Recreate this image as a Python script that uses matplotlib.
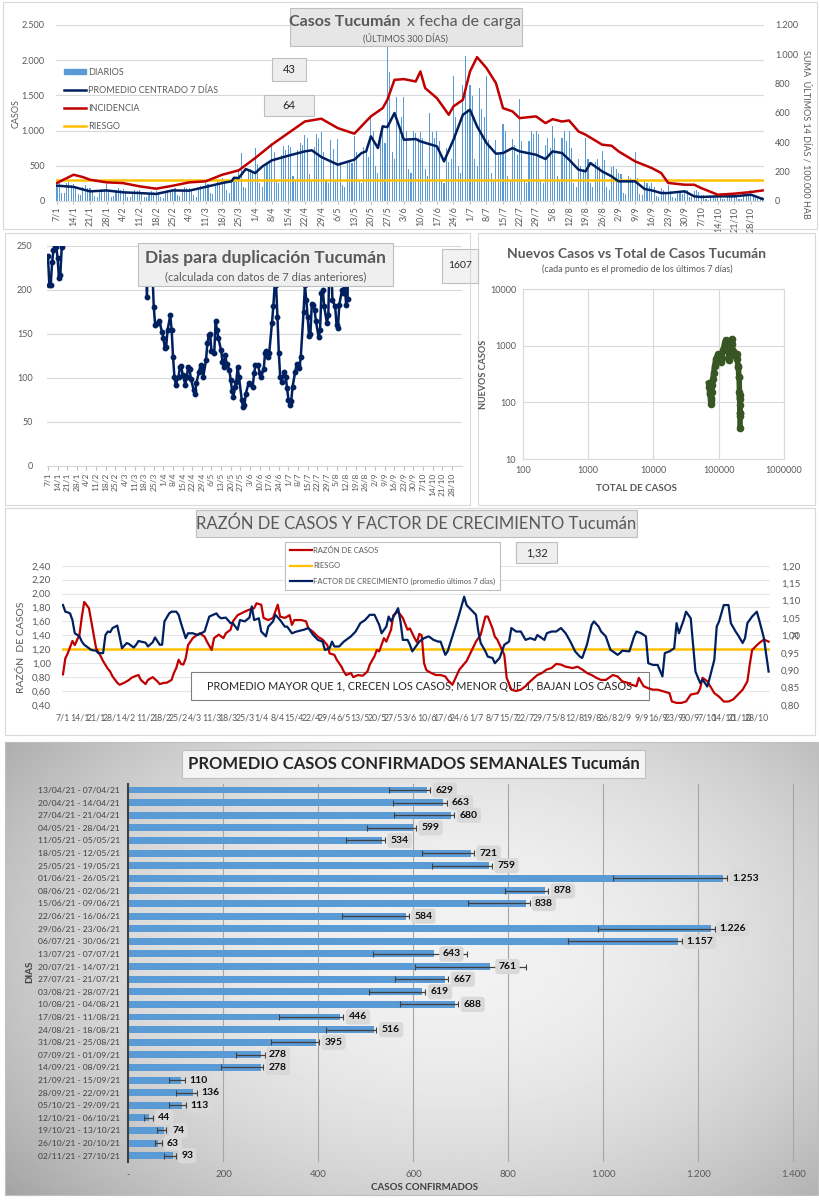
import numpy as np
import matplotlib.pyplot as plt
from matplotlib.patches import Rectangle, Patch
from matplotlib.lines import Line2D

plt.rcParams['font.family'] = ['Lato', 'DejaVu Sans']

GRAY_TXT = '#595959'
NAVY = '#002060'
RED = '#c00000'
ORANGE = '#ffc000'
BAR_BLUE = '#5b9bd5'
GREEN = '#375623'

# ---------------- datos ----------------
week_labels = ['7/1', '14/1', '21/1', '28/1', '4/2', '11/2', '18/2', '25/2', '4/3', '11/3',
               '18/3', '25/3', '1/4', '8/4', '15/4', '22/4', '29/4', '6/5', '13/5', '20/5',
               '27/5', '3/6', '10/6', '17/6', '24/6', '1/7', '8/7', '15/7', '22/7', '29/7',
               '5/8', '12/8', '19/8', '26/8', '2/9', '9/9', '16/9', '23/9', '30/9', '7/10',
               '14/10', '21/10', '28/10']

# casos diarios desde 7/1 (300 dias)
daily_cases = [
    230, 260, 110, 120, 250, 270, 230,
    240, 210, 100, 90, 200, 230, 190,
    180, 150, 70, 60, 160, 170, 150,
    240, 160, 60, 70, 150, 180, 160,
    170, 140, 50, 60, 130, 150, 140,
    150, 120, 60, 50, 120, 140, 130,
    140, 130, 50, 40, 110, 150, 150,
    170, 180, 90, 70, 160, 200, 180,
    190, 170, 80, 60, 170, 210, 170,
    260, 240, 110, 100, 230, 280, 250,
    330, 300, 150, 120, 310, 340, 330,
    450, 680, 200, 180, 420, 460, 400,
    750, 520, 250, 200, 480, 540, 560,
    820, 700, 300, 250, 650, 780, 720,
    800, 760, 350, 280, 720, 830, 800,
    940, 900, 380, 300, 760, 950, 900,
    980, 700, 300, 250, 860, 740, 300,
    880, 560, 230, 200, 570, 580, 540,
    920, 700, 300, 260, 760, 740, 620,
    1200, 1000, 500, 400, 950, 1080, 820,
    2200, 1830, 700, 600, 1480, 1000, 1200,
    1480, 1000, 450, 400, 990, 960, 900,
    980, 900, 450, 350, 1250, 980, 900,
    1000, 850, 300, 250, 750, 550, 600,
    1770, 1200, 500, 400, 1650, 2060, 1300,
    1650, 1485, 600, 500, 1600, 1300, 1200,
    1780, 870, 400, 300, 870, 650, 700,
    1100, 1000, 350, 300, 880, 800, 650,
    1450, 850, 300, 250, 850, 1000, 950,
    990, 950, 300, 250, 800, 900, 750,
    1060, 900, 350, 300, 900, 1000, 850,
    990, 750, 250, 200, 600, 500, 450,
    894, 600, 250, 200, 550, 600, 500,
    705, 580, 200, 150, 480, 500, 450,
    400, 380, 120, 100, 350, 320, 300,
    690, 320, 100, 80, 280, 250, 220,
    250, 200, 70, 60, 180, 150, 130,
    230, 140, 50, 40, 120, 110, 100,
    160, 150, 60, 50, 140, 150, 130,
    90, 80, 30, 20, 70, 70, 60,
    90, 80, 30, 25, 80, 75, 70,
    100, 90, 35, 30, 80, 80, 70,
    150, 90, 40, 30, 40, 60,
]

# (dia, valor) promedio centrado 7 dias
avg_7d = [(0, 218), (7, 200), (14, 137), (21, 150), (28, 123), (35, 113), (42, 100), (49, 150),
          (56, 147), (63, 200), (70, 255), (74, 280), (75, 330), (77, 326), (80, 454), (84, 397),
          (87, 490), (91, 577), (98, 643), (105, 705), (108, 720), (112, 625), (119, 516),
          (126, 587), (129, 680), (131, 705), (133, 918), (136, 752), (138, 1060), (140, 1050),
          (143, 1250), (147, 870), (152, 880), (154, 847), (161, 776), (164, 563), (168, 870),
          (172, 1225), (175, 1296), (178, 1060), (182, 823), (186, 672), (189, 681), (193, 752),
          (196, 705), (203, 657), (207, 596), (210, 705), (214, 681), (217, 587), (221, 445),
          (224, 421), (226, 539), (231, 421), (235, 350), (238, 279), (241, 279), (245, 279),
          (249, 170), (252, 151), (256, 113), (259, 113), (263, 128), (266, 137), (270, 66),
          (273, 57), (280, 66), (287, 66), (294, 90), (299, 28)]

# (dia, valor) incidencia 14 dias / 100.000 hab
incidence = [(0, 123), (7, 179), (11, 163), (14, 145), (21, 127), (28, 122), (35, 100), (42, 84),
             (49, 104), (56, 127), (63, 134), (70, 179), (77, 209), (84, 293), (91, 384), (98, 463),
             (105, 542), (112, 561), (119, 497), (126, 459), (133, 577), (138, 633), (140, 690),
             (143, 826), (147, 831), (152, 815), (154, 883), (156, 770), (161, 701), (166, 588),
             (168, 645), (172, 690), (175, 883), (178, 981), (182, 906), (186, 804), (189, 633),
             (193, 611), (196, 565), (203, 577), (207, 531), (210, 558), (214, 542), (217, 549),
             (221, 474), (224, 452), (231, 384), (235, 377), (238, 338), (245, 270), (252, 225),
             (256, 191), (259, 123), (266, 111), (270, 111), (273, 88), (280, 43), (287, 50),
             (294, 61), (299, 72)]
riesgo_casos = 300
box_43 = '43'
box_64 = '64'

# (dia, valor) dias para duplicacion
duplicacion = [(0, 238), (1, 205), (2, 205), (3, 231), (4, 245), (5, 249), (6, 249), (7, 236),
               (8, 213), (9, 217), (10, 248), (11, 300), (70, 300), (72, 192), (74, 300),
               (77, 180), (78, 160), (80, 162), (81, 165), (83, 152), (84, 145), (85, 134),
               (86, 135), (87, 154), (89, 171), (90, 154), (91, 124), (92, 101), (93, 92),
               (95, 101), (96, 112), (97, 113), (98, 103), (100, 92), (101, 101), (102, 112),
               (103, 110), (104, 99), (106, 86), (107, 82), (108, 94), (110, 107), (111, 114),
               (112, 112), (113, 101), (115, 120), (116, 139), (117, 148), (118, 150), (119, 130),
               (121, 128), (122, 164), (123, 154), (124, 145), (126, 131), (127, 118), (128, 112),
               (129, 126), (130, 116), (132, 109), (133, 97), (134, 85), (135, 78), (136, 90),
               (137, 95), (138, 112), (139, 101), (141, 75), (142, 67), (143, 69), (144, 82),
               (146, 94), (147, 93), (149, 90), (150, 105), (151, 114), (153, 114), (154, 105),
               (155, 101), (157, 110), (158, 128), (159, 130), (160, 124), (161, 128), (163, 162),
               (164, 181), (165, 206), (166, 205), (167, 169), (168, 128), (169, 101), (170, 95),
               (172, 107), (173, 101), (174, 88), (175, 75), (176, 69), (177, 73), (178, 90),
               (180, 107), (181, 116), (182, 114), (183, 111), (184, 124), (186, 175), (187, 205),
               (188, 188), (189, 169), (190, 147), (191, 150), (192, 184), (193, 183), (194, 177),
               (195, 164), (197, 146), (198, 154), (199, 196), (200, 200), (201, 181), (203, 162),
               (204, 171), (205, 240), (206, 240), (207, 188), (209, 181), (210, 160), (211, 156),
               (212, 183), (214, 200), (215, 196), (216, 203), (217, 183), (218, 190), (219, 300)]
box_1607 = '1607'

# nuevos casos vs total (semanal)
total_casos = [70000, 71500, 72800, 73800, 74800, 75600, 76400, 77300, 78400, 79700, 81400,
               83500, 86300, 90000, 94300, 99000, 103500, 107300, 111200, 116500, 123800,
               127500, 131000, 137000, 142000, 144000, 147500, 152000, 157000, 161000, 166000,
               172500, 177500, 183000, 188000, 192500, 196500, 200000, 203000, 205500, 207500,
               208500, 209500, 210300, 210800, 211300, 211800, 212200]
nuevos_casos = [215, 190, 140, 145, 120, 110, 95, 150, 150, 200, 260, 330, 430, 580, 640, 710,
                620, 520, 600, 850, 1100, 1250, 880, 840, 700, 560, 870, 1230, 1300, 1060, 820,
                680, 700, 650, 700, 590, 430, 420, 280, 280, 150, 113, 135, 57, 66, 66, 90, 35]

# (dia, valor) razon de casos (eje izq) y factor de crecimiento (eje der)
razon = [(0, 0.84), (1, 1.07), (2, 1.14), (4, 1.32), (5, 1.26), (7, 1.41), (8, 1.67), (9, 1.88),
         (11, 1.79), (12, 1.60), (13, 1.41), (14, 1.22), (16, 1.10), (17, 1.03), (19, 0.92),
         (20, 0.88), (21, 0.81), (23, 0.72), (24, 0.69), (26, 0.72), (28, 0.76), (29, 0.79),
         (31, 0.82), (32, 0.83), (33, 0.76), (35, 0.70), (36, 0.76), (38, 0.80), (40, 0.74),
         (41, 0.70), (43, 0.72), (44, 0.72), (46, 0.76), (47, 0.86), (48, 0.93), (49, 1.05),
         (50, 0.99), (51, 0.98), (52, 1.07), (53, 1.26), (55, 1.36), (57, 1.41), (58, 1.43),
         (60, 1.38), (61, 1.31), (63, 1.19), (64, 1.36), (66, 1.41), (68, 1.36), (69, 1.43),
         (71, 1.48), (72, 1.60), (74, 1.69), (77, 1.74), (79, 1.77), (81, 1.79), (82, 1.86),
         (84, 1.84), (85, 1.65), (87, 1.62), (89, 1.65), (91, 1.84), (92, 1.67), (94, 1.65),
         (96, 1.69), (97, 1.55), (98, 1.62), (101, 1.62), (103, 1.60), (104, 1.50), (106, 1.45),
         (108, 1.38), (110, 1.34), (112, 1.26), (113, 1.14), (115, 1.12), (116, 1.05),
         (118, 0.95), (119, 0.88), (120, 0.83), (122, 0.86), (123, 0.80), (125, 0.83),
         (127, 0.82), (129, 0.88), (130, 0.98), (132, 1.10), (133, 1.19), (134, 1.17),
         (136, 1.36), (137, 1.31), (139, 1.48), (140, 1.69), (142, 1.74), (144, 1.65),
         (146, 1.48), (147, 1.50), (149, 1.36), (150, 1.30), (151, 1.42), (152, 1.40),
         (153, 1.00), (154, 0.90), (156, 0.86), (158, 0.83), (160, 0.83), (162, 0.81),
         (163, 0.76), (165, 0.69), (168, 0.91), (171, 1.03), (173, 1.17), (175, 1.31),
         (177, 1.41), (179, 1.67), (180, 1.67), (182, 1.50), (183, 1.38), (184, 1.34),
         (187, 1.12), (188, 0.79), (190, 0.62), (192, 0.60), (194, 0.62), (196, 0.67),
         (198, 0.74), (201, 0.83), (203, 0.86), (205, 0.91), (207, 0.93), (209, 0.99),
         (211, 0.98), (213, 0.95), (216, 0.93), (218, 0.95), (220, 0.91), (222, 0.86),
         (224, 0.83), (226, 0.79), (228, 0.76), (230, 0.76), (233, 0.83), (235, 0.81),
         (237, 0.74), (239, 0.72), (241, 0.69), (243, 0.67), (244, 0.79), (246, 0.67),
         (248, 0.64), (250, 0.62), (252, 0.62), (254, 0.60), (257, 0.57), (258, 0.45),
         (260, 0.43), (262, 0.43), (264, 0.45), (266, 0.55), (269, 0.57), (270, 0.64),
         (271, 0.79), (273, 0.74), (276, 0.57), (278, 0.52), (280, 0.45), (282, 0.45),
         (284, 0.48), (286, 0.55), (288, 0.62), (290, 0.74), (291, 0.98), (292, 1.19),
         (295, 1.29), (297, 1.34), (299, 1.31)]

factor = [(0, 1.087), (1, 1.068), (2, 1.066), (3, 1.063), (4, 1.044), (5, 1.006), (7, 0.997),
          (8, 0.982), (9, 0.973), (11, 0.963), (12, 0.958), (14, 0.956), (15, 0.949), (17, 0.949),
          (18, 1.001), (19, 1.011), (20, 1.009), (21, 1.021), (23, 1.028), (24, 0.997),
          (25, 0.963), (27, 0.978), (28, 0.975), (30, 0.965), (31, 0.973), (32, 0.984),
          (33, 0.982), (35, 0.979), (36, 0.968), (38, 0.980), (39, 0.994), (41, 0.973),
          (42, 0.973), (43, 1.040), (45, 1.063), (46, 1.068), (48, 1.068), (49, 1.059),
          (50, 1.035), (52, 0.992), (53, 1.006), (55, 1.006), (57, 1.001), (60, 1.011),
          (61, 1.032), (62, 1.054), (65, 1.063), (66, 1.054), (67, 1.049), (69, 1.051),
          (71, 1.035), (72, 1.035), (74, 1.016), (75, 1.044), (77, 1.040), (79, 1.051),
          (80, 1.083), (81, 1.044), (83, 1.049), (84, 1.011), (86, 0.997), (87, 1.025),
          (89, 1.040), (90, 1.059), (92, 1.044), (94, 1.025), (95, 1.025), (97, 1.006),
          (99, 1.011), (102, 1.016), (104, 1.021), (106, 1.001), (108, 0.987), (110, 0.982),
          (111, 0.958), (113, 0.963), (114, 0.982), (115, 0.968), (117, 0.968), (119, 0.982),
          (122, 0.997), (124, 1.011), (126, 1.035), (128, 1.044), (130, 1.059), (132, 1.059),
          (134, 1.030), (135, 1.006), (137, 1.025), (138, 1.054), (139, 1.040), (142, 1.078),
          (143, 1.040), (144, 0.987), (146, 0.987), (147, 0.973), (148, 0.954), (151, 0.982),
          (153, 0.992), (155, 0.997), (157, 0.987), (159, 0.982), (160, 0.982), (162, 0.944),
          (163, 0.954), (165, 0.997), (167, 1.040), (168, 1.063), (170, 1.111), (171, 1.087),
          (173, 1.073), (175, 1.059), (176, 1.011), (177, 0.978), (179, 0.954), (180, 0.939),
          (182, 0.935), (183, 0.920), (185, 0.935), (187, 0.973), (189, 0.982), (190, 1.021),
          (192, 1.011), (194, 1.011), (196, 0.987), (198, 0.992), (200, 0.987), (201, 1.001),
          (204, 0.987), (205, 1.006), (207, 1.011), (209, 1.011), (211, 1.021), (213, 1.006),
          (215, 0.982), (217, 0.954), (219, 0.939), (220, 0.935), (222, 0.973), (224, 1.030),
          (225, 1.040), (227, 1.025), (228, 1.011), (230, 0.997), (232, 0.958), (233, 0.954),
          (235, 0.944), (236, 0.949), (237, 0.956), (240, 0.954), (242, 0.997), (243, 1.011),
          (245, 1.006), (247, 0.997), (248, 0.920), (250, 0.915), (252, 0.915), (254, 0.882),
          (255, 0.949), (257, 0.954), (259, 0.963), (260, 1.035), (261, 1.006), (263, 1.044),
          (264, 1.068), (266, 1.049), (267, 0.973), (268, 0.896), (270, 0.863), (271, 0.873),
          (273, 0.853), (274, 0.877), (276, 0.930), (277, 1.025), (278, 1.040), (280, 1.087),
          (282, 1.087), (283, 1.035), (285, 1.011), (286, 1.001), (288, 0.978), (289, 0.992),
          (290, 1.035), (292, 1.054), (294, 1.068), (295, 1.044), (297, 0.992), (299, 0.896)]
riesgo_razon = 1.2
ultimo_razon = '1,32'

# promedio semanal de casos confirmados
semanas = ['13/04/21 - 07/04/21', '20/04/21 - 14/04/21', '27/04/21 - 21/04/21',
           '04/05/21 - 28/04/21', '11/05/21 - 05/05/21', '18/05/21 - 12/05/21',
           '25/05/21 - 19/05/21', '01/06/21 - 26/05/21', '08/06/21 - 02/06/21',
           '15/06/21 - 09/06/21', '22/06/21 - 16/06/21', '29/06/21 - 23/06/21',
           '06/07/21 - 30/06/21', '13/07/21 - 07/07/21', '20/07/21 - 14/07/21',
           '27/07/21 - 21/07/21', '03/08/21 - 28/07/21', '10/08/21 - 04/08/21',
           '17/08/21 - 11/08/21', '24/08/21 - 18/08/21', '31/08/21 - 25/08/21',
           '07/09/21 - 01/09/21', '14/09/21 - 08/09/21', '21/09/21 - 15/09/21',
           '28/09/21 - 22/09/21', '05/10/21 - 29/09/21', '12/10/21 - 06/10/21',
           '19/10/21 - 13/10/21', '26/10/21 - 20/10/21', '02/11/21 - 27/10/21']
promedio_semanal = [629, 663, 680, 599, 534, 721, 759, 1253, 878, 838, 584, 1226, 1157, 643, 761,
                    667, 619, 688, 446, 516, 395, 278, 278, 110, 136, 113, 44, 74, 63, 93]
err_menos = [80, 106, 120, 96, 75, 102, 119, 232, 85, 123, 135, 237, 231, 129, 158,
             106, 112, 117, 129, 100, 94, 52, 83, 24, 36, 27, 11, 15, 7, 18]
err_mas = [6, 7, 6, 6, 6, 6, 6, 8, 6, 7, 7, 9, 8, 70, 76,
           6, 6, 6, 6, 6, 7, 9, 6, 9, 8, 8, 7, 6, 8, 8]

# ---------------- figura ----------------
W, H = 820, 1200
fig = plt.figure(figsize=(W / 100, H / 100), dpi=100)


def add_ax(x0, y0, x1, y1, **kw):
    return fig.add_axes([x0 / W, 1 - y1 / H, (x1 - x0) / W, (y1 - y0) / H], **kw)


def ftext(x, y, s, **kw):
    kw.setdefault('ha', 'center')
    kw.setdefault('va', 'center')
    kw.setdefault('color', GRAY_TXT)
    return fig.text(x / W, 1 - y / H, s, **kw)


def fbox(x0, y0, x1, y1, fc='#e7e6e6', ec='#bfbfbf', lw=0.8, z=2):
    r = Rectangle((x0 / W, 1 - y1 / H), (x1 - x0) / W, (y1 - y0) / H,
                  transform=fig.transFigure, facecolor=fc, edgecolor=ec, linewidth=lw, zorder=z)
    fig.add_artist(r)


def miles(v):
    return f'{v:,}'.replace(',', '.')


def clean(ax, bottom=True):
    for s in ax.spines.values():
        s.set_visible(False)
    if bottom:
        ax.spines['bottom'].set_visible(True)
        ax.spines['bottom'].set_color('#d9d9d9')


week_pos = np.arange(len(week_labels)) * 7

# ---- panel 1: casos diarios ----
ax1 = add_ax(55.8, 25, 763.8, 201)
days = np.arange(len(daily_cases))
ax1.bar(days, daily_cases, width=0.45, color=BAR_BLUE, zorder=2)
d, v = zip(*avg_7d)
ax1.plot(d, v, color=NAVY, lw=1.8, zorder=4)
ax1.axhline(riesgo_casos, color=ORANGE, lw=1.8, zorder=3)
ax1.set_xlim(-0.5, 299.5)
ax1.set_ylim(0, 2500)
ax1.set_yticks(range(0, 2501, 500))
ax1.set_yticklabels([miles(t) for t in range(0, 2501, 500)])
ax1.grid(axis='y', color='#d9d9d9', lw=0.8)
ax1.set_axisbelow(True)
clean(ax1)
ax1.set_xticks(week_pos)
ax1.set_xticklabels(week_labels, rotation=90)
ax1.tick_params(axis='x', length=2, color='#bfbfbf', labelsize=6.5, labelcolor=GRAY_TXT, pad=2)
ax1.tick_params(axis='y', length=0, labelsize=6.5, labelcolor=GRAY_TXT, pad=8)

ax1r = ax1.twinx()
d, v = zip(*incidence)
ax1r.plot(d, v, color=RED, lw=1.8, zorder=3)
ax1r.set_ylim(0, 1200)
ax1r.set_yticks(range(0, 1201, 200))
ax1r.set_yticklabels([miles(t) for t in range(0, 1201, 200)])
clean(ax1r, bottom=False)
ax1r.tick_params(axis='y', length=0, labelsize=6.5, labelcolor=GRAY_TXT, pad=8)

handles = [Patch(color=BAR_BLUE, label='DIARIOS'),
           Line2D([], [], color=NAVY, lw=1.8, label='PROMEDIO CENTRADO 7 DÍAS'),
           Line2D([], [], color=RED, lw=1.8, label='INCIDENCIA'),
           Line2D([], [], color=ORANGE, lw=1.8, label='RIESGO')]
leg = ax1r.legend(handles=handles, loc='upper left', bbox_to_anchor=(60 / W, 1 - 64 / H),
                  bbox_transform=fig.transFigure, frameon=False, fontsize=6.5,
                  handlelength=2.5, handleheight=0.5, labelspacing=1.0, handletextpad=0.2,
                  borderaxespad=0)
for t in leg.get_texts():
    t.set_color(GRAY_TXT)

ftext(16, 114, 'CASOS', rotation=90, fontsize=6.5)
ftext(806, 134, 'SUMA  ÚLTIMOS 14 DÍAS / 100.000 HAB', rotation=270, fontsize=6.5)
fbox(290, 8, 522, 46)
ftext(401, 22, 'Casos Tucumán', ha='right', fontsize=11.5, fontweight='bold')
ftext(407, 22, 'x fecha de carga', ha='left', fontsize=11.5)
ftext(405, 38, '(ÚLTIMOS 300 DÍAS)', fontsize=6.5)
fbox(272, 58, 306, 81, fc='#eeeeee')
ftext(289, 69.5, box_43, fontsize=8, color='#262626')
fbox(264, 95, 314, 116, fc='#eeeeee')
ftext(289, 105.5, box_64, fontsize=8, color='#262626')
fbox(3, 2, 817, 229, fc='none', ec='#d9d9d9')

# ---- panel 2: dias para duplicacion ----
ax2 = add_ax(46.6, 245.7, 462, 465.7)
d, v = zip(*duplicacion)
ax2.plot(d, v, color=NAVY, lw=1.8, marker='o', ms=3.2, zorder=3)
ax2.set_xlim(-1, 301.3)
ax2.set_ylim(0, 250)
ax2.set_yticks(range(0, 251, 50))
ax2.grid(axis='y', color='#d9d9d9', lw=0.8)
ax2.set_axisbelow(True)
clean(ax2)
ax2.set_xticks(week_pos)
ax2.set_xticklabels(week_labels, rotation=90)
ax2.tick_params(axis='x', length=3, color='#bfbfbf', labelsize=6, labelcolor=GRAY_TXT, pad=2)
ax2.tick_params(axis='y', length=0, labelsize=6.5, labelcolor=GRAY_TXT, pad=10)
fbox(138, 243, 393, 286, fc='#efefef')
ftext(265.5, 258, 'Dias para duplicación Tucumán', fontsize=12.5, fontweight='bold')
ftext(265.5, 277, '(calculada con datos de 7 días anteriores)', fontsize=8)
fbox(442, 249, 478, 283, fc='#f2f2f2')
ftext(460, 266, box_1607, fontsize=7.5, color='#262626')
fbox(5, 233, 470, 505, fc='none', ec='#d9d9d9')

# ---- panel 3: nuevos casos vs total ----
fbox(478, 233, 815, 505, fc='white', ec='#d9d9d9', z=1.5)
ax3 = add_ax(523, 289, 784, 459)
ax3.set_zorder(2)
ax3.plot(total_casos, nuevos_casos, color=GREEN, lw=4, marker='o', ms=4.5, zorder=3)
ax3.set_xscale('log')
ax3.set_yscale('log')
ax3.set_xlim(100, 1e6)
ax3.set_ylim(10, 1e4)
ax3.set_xticks([1e2, 1e3, 1e4, 1e5, 1e6])
ax3.set_xticklabels(['100', '1000', '10000', '100000', '1000000'])
ax3.set_yticks([1e1, 1e2, 1e3, 1e4])
ax3.set_yticklabels(['10', '100', '1000', '10000'])
ax3.minorticks_off()
ax3.grid(color='#d9d9d9', lw=0.8)
ax3.set_axisbelow(True)
for s in ax3.spines.values():
    s.set_color('#d9d9d9')
ax3.tick_params(length=0, labelsize=6.5, labelcolor=GRAY_TXT, pad=5)
ftext(637, 254, 'Nuevos Casos vs Total de Casos Tucumán', fontsize=10, fontweight='bold', zorder=4)
ftext(637, 269, '(cada punto es el promedio de los últimos 7 días)', fontsize=6.5, zorder=4)
ftext(484, 374, 'NUEVOS CASOS', rotation=90, fontsize=6.5, fontweight='bold', zorder=4)
ftext(637, 488, 'TOTAL DE CASOS', fontsize=7, fontweight='bold', zorder=4)

# ---- panel 4: razon de casos y factor de crecimiento ----
ax4 = add_ax(61.8, 565.7, 769.8, 705)
d, v = zip(*razon)
ax4.plot(d, v, color=RED, lw=1.6, zorder=3)
ax4.axhline(riesgo_razon, color=ORANGE, lw=1.8, zorder=2.5)
ax4.set_xlim(-0.5, 299.5)
ax4.set_ylim(0.4, 2.4)
yt = np.round(np.arange(0.4, 2.41, 0.2), 2)
ax4.set_yticks(yt)
ax4.set_yticklabels([f'{t:.2f}'.replace('.', ',') for t in yt])
ax4.grid(axis='y', color='#e7e6e6', lw=0.8)
ax4.set_axisbelow(True)
clean(ax4, bottom=False)
ax4.set_xticks(week_pos)
ax4.set_xticklabels(week_labels)
ax4.tick_params(axis='x', length=0, labelsize=6.3, labelcolor=GRAY_TXT, pad=6)
ax4.tick_params(axis='y', length=0, labelsize=7, labelcolor=GRAY_TXT, pad=8)

box = Rectangle((191 / W, 1 - 700 / H), 458 / W, 28 / H, transform=fig.transFigure,
                facecolor='white', edgecolor='#7f7f7f', lw=0.8, zorder=1.5, clip_on=False)
ax4.add_patch(box)
ax4.text(420 / W, 1 - 686 / H, 'PROMEDIO MAYOR QUE 1, CRECEN LOS CASOS, MENOR QUE 1, BAJAN LOS CASOS',
         transform=fig.transFigure, ha='center', va='center', fontsize=7.8, color='#262626',
         zorder=1.6, clip_on=False)

ax4r = ax4.twinx()
d, v = zip(*factor)
ax4r.plot(d, v, color=NAVY, lw=1.6, zorder=3)
ax4r.set_ylim(0.8, 1.2)
yt2 = np.round(np.arange(0.8, 1.201, 0.05), 2)
ax4r.set_yticks(yt2)
ax4r.set_yticklabels([f'{t:.2f}'.replace('.', ',') for t in yt2])
clean(ax4r, bottom=False)
ax4r.tick_params(axis='y', length=0, labelsize=7, labelcolor=GRAY_TXT, pad=8)

handles = [Line2D([], [], color=RED, lw=1.6, label='RAZÓN DE CASOS'),
           Line2D([], [], color=ORANGE, lw=1.6, label='RIESGO'),
           Line2D([], [], color=NAVY, lw=1.6, label='FACTOR DE CRECIMIENTO (promedio últimos 7 días)')]
leg = ax4r.legend(handles=handles, loc='upper left', bbox_to_anchor=(285 / W, 1 - 542 / H),
                  bbox_transform=fig.transFigure, frameon=True, fancybox=False,
                  edgecolor='#bfbfbf', framealpha=1, fontsize=5.5, handlelength=3,
                  labelspacing=1.1, handletextpad=0.1, borderaxespad=0, borderpad=0.6)
leg.get_frame().set_linewidth(0.8)
for t in leg.get_texts():
    t.set_color(GRAY_TXT)

fbox(196, 510, 637, 537)
ftext(416.5, 524, 'RAZÓN DE CASOS Y FACTOR DE CRECIMIENTO Tucumán', fontsize=12)
fbox(516, 542, 557, 563, fc='#eeeeee')
ftext(536.5, 552.5, ultimo_razon, fontsize=8, color='#262626')
ftext(22, 647, 'RAZÓN  DE CASOS', rotation=90, fontsize=7.5)
ftext(793, 636, 'FC', rotation=270, fontsize=5.5)
fbox(5, 508, 815, 735, fc='none', ec='#d9d9d9')

# ---- panel 5: promedio semanal ----
bg = add_ax(5, 742, 818, 1195)
bg.set_zorder(-1)
gy, gx = np.mgrid[-1:1:200j, -1:1:300j]
shade = 0.95 - 0.15 * ((gx - 0.1) ** 2 + 0.7 * (gy + 0.1) ** 2)
bg.imshow(shade, cmap='gray', vmin=0, vmax=1, extent=[0, 1, 0, 1], aspect='auto')
bg.axis('off')

ax5 = add_ax(128.5, 783.7, 798, 1162)
ax5.set_facecolor('none')
ypos = np.arange(len(semanas))
ax5.barh(ypos, promedio_semanal, height=0.55, color=BAR_BLUE, zorder=2,
         xerr=[err_menos, err_mas],
         error_kw=dict(ecolor='#404040', elinewidth=0.9, capsize=2, capthick=0.8, zorder=3))
for i, val in enumerate(promedio_semanal):
    ax5.text(val + 18, i, miles(val), ha='left', va='center', fontsize=7.5, fontweight='bold',
             color='#0d0d0d', zorder=4,
             bbox=dict(boxstyle='round,pad=0.3', fc='#d9d9d9', ec='none'))
ax5.set_ylim(len(semanas) - 0.5, -0.5)
ax5.set_xlim(0, 1410)
ax5.set_yticks(ypos)
ax5.set_yticklabels(semanas)
xt = list(range(0, 1401, 200))
ax5.set_xticks(xt)
ax5.set_xticklabels(['-'] + [miles(t) for t in xt[1:]])
ax5.grid(axis='x', color='#a6a6a6', lw=0.8)
ax5.set_axisbelow(True)
for s in ax5.spines.values():
    s.set_visible(False)
ax5.spines['left'].set_visible(True)
ax5.spines['left'].set_color('#404040')
ax5.spines['left'].set_linewidth(1.5)
ax5.tick_params(axis='y', length=0, labelsize=6.1, labelcolor='#404040', pad=6)
ax5.tick_params(axis='x', length=0, labelsize=7, labelcolor=GRAY_TXT, pad=6)
fbox(182, 750, 645, 778, fc='#f4f4f4', ec='#bfbfbf')
ftext(413.5, 764, 'PROMEDIO CASOS CONFIRMADOS SEMANALES Tucumán', fontsize=12,
      fontweight='bold', color='#262626')
ftext(30, 972, 'DIAS', rotation=90, fontsize=7, fontweight='bold', color='#404040')
ftext(425, 1187, 'CASOS CONFIRMADOS', fontsize=7, fontweight='bold', color='#404040')
fbox(5, 742, 818, 1195, fc='none', ec='#bfbfbf')

fig.savefig('out.png', dpi=100)
